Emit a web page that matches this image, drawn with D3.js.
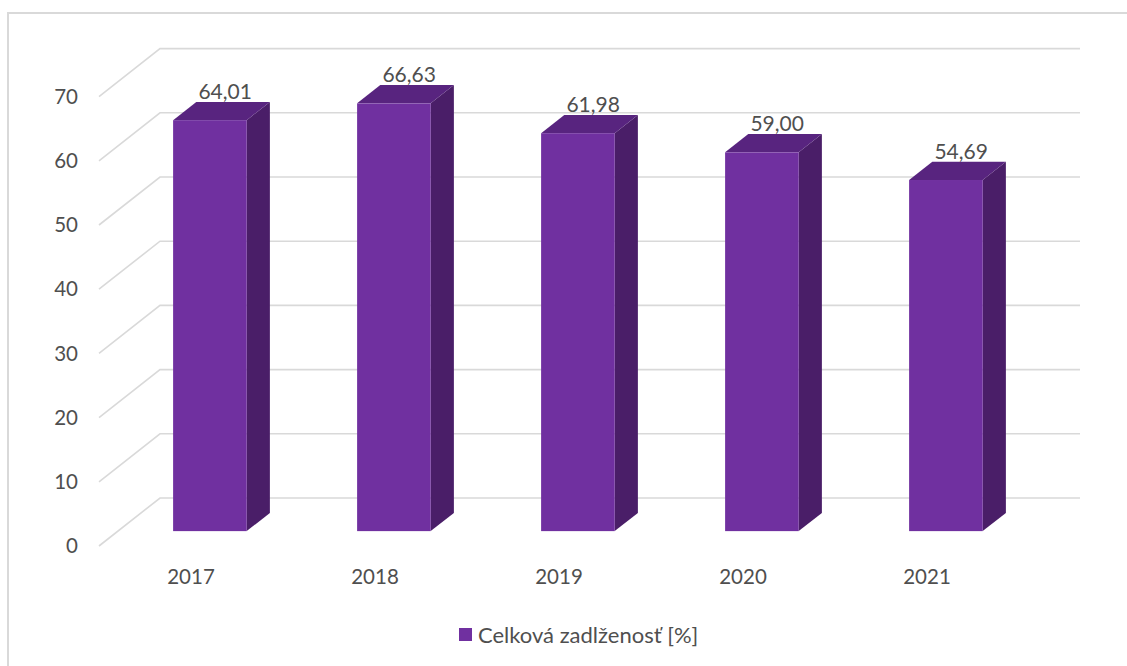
<!DOCTYPE html>
<html>
<head>
<meta charset="utf-8">
<script src="https://cdn.jsdelivr.net/npm/d3@7"></script>
<style>
  html, body { margin: 0; padding: 0; background: #ffffff; }
  svg { display: block; }
  text { font-family: Lato, "Open Sans", sans-serif; fill: #4f4f4f; }
</style>
</head>
<body>
<svg id="chart" width="1127" height="666"></svg>
<script>
// Total indebtedness by year
const years = ["2017", "2018", "2019", "2020", "2021"];
const values = [64.01, 66.63, 61.98, 59.00, 54.69];
const valueLabels = ["64,01", "66,63", "61,98", "59,00", "54,69"];
const yTicks = [0, 10, 20, 30, 40, 50, 60, 70];
const seriesName = "Celková zadlženosť [%]";

const W = 1127, H = 666;
const svg = d3.select("#chart");

// Oblique projection of the plot box: depth d in [0,1] shifts right and up
const depthDx = 61, depthDy = -48;
const barD0 = 0.31, barD1 = 0.69;

const x = d3.scaleBand().domain(years).range([99, 1019]).paddingInner(0.6).paddingOuter(0.3);
const y = d3.scaleLinear().domain([0, 70]).range([546, 96.6]);

const colFront = "#7030a0", colTop = "#58247f", colSide = "#4a1e68";
const gridCol = "#d9d9d9";

// Chart frame
svg.append("path")
  .attr("d", `M8,${H} V13 H${W}`)
  .attr("fill", "none").attr("stroke", gridCol).attr("stroke-width", 2);

// Gridlines: diagonal on the side wall, horizontal on the back wall
const x0 = x.range()[0], x1 = x.range()[1];
const grid = svg.append("g");
yTicks.forEach(t => {
  const yf = y(t);
  grid.append("path")
    .attr("d", `M${x0},${yf} L${x0 + depthDx},${yf + depthDy} L${x1 + depthDx},${yf + depthDy}`)
    .attr("fill", "none").attr("stroke", gridCol).attr("stroke-width", 1.6);
});

// Value axis labels
svg.append("g").selectAll("text").data(yTicks).join("text")
  .attr("x", 78).attr("y", d => y(d) + 2)
  .attr("text-anchor", "end").attr("dominant-baseline", "middle")
  .attr("font-size", "20.5px")
  .text(d => d);

// Category labels
svg.append("g").selectAll("text").data(years).join("text")
  .attr("x", d => x(d) + x.bandwidth() / 2)
  .attr("y", 584)
  .attr("text-anchor", "middle")
  .attr("font-size", "20.5px")
  .text(d => d);

// 3D bars
const bars = svg.append("g");
years.forEach((yr, i) => {
  const bx = x(yr), bw = x.bandwidth();
  const fx = bx + barD0 * depthDx, fdy = barD0 * depthDy;
  const ddx = (barD1 - barD0) * depthDx, ddy = (barD1 - barD0) * depthDy;
  const yTop = y(values[i]) + fdy, yBot = y(0) + fdy;
  const g = bars.append("g");
  // side face
  g.append("path")
    .attr("d", `M${fx + bw},${yTop} L${fx + bw + ddx},${yTop + ddy} L${fx + bw + ddx},${yBot + ddy} L${fx + bw},${yBot} Z`)
    .attr("fill", colSide);
  // top face
  g.append("path")
    .attr("d", `M${fx},${yTop} L${fx + ddx},${yTop + ddy} L${fx + bw + ddx},${yTop + ddy} L${fx + bw},${yTop} Z`)
    .attr("fill", colTop);
  // front face
  g.append("rect")
    .attr("x", fx).attr("y", yTop).attr("width", bw).attr("height", yBot - yTop)
    .attr("fill", colFront);
  // value label
  g.append("text")
    .attr("x", bx + bw / 2 + 0.56 * depthDx)
    .attr("y", y(values[i]) + barD1 * depthDy - 3)
    .attr("text-anchor", "middle")
    .attr("font-size", "21px")
    .text(valueLabels[i]);
});

// Legend
const legend = svg.append("g");
legend.append("rect").attr("x", 459).attr("y", 628).attr("width", 13).attr("height", 13).attr("fill", colFront);
legend.append("text").attr("x", 478).attr("y", 643).attr("font-size", "22px").text(seriesName);
</script>
</body>
</html>
